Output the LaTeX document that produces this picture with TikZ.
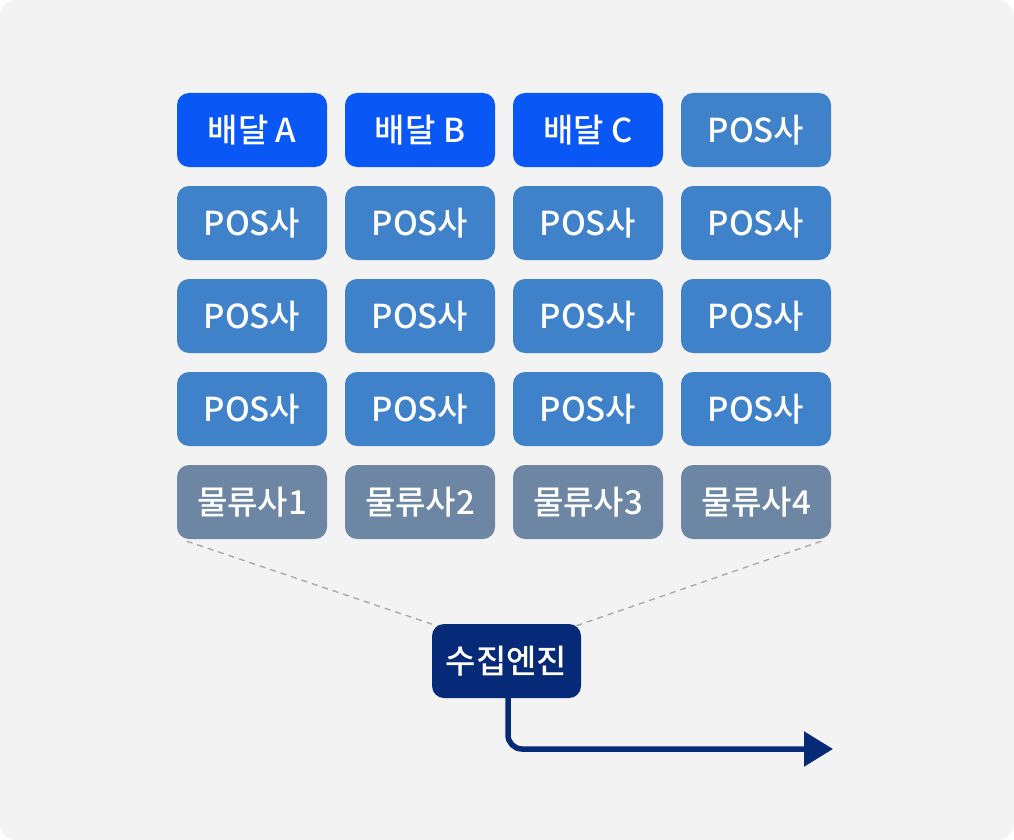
\documentclass[tikz,border=0pt]{standalone}
\usepackage{fontspec}
\setmainfont{Noto Sans CJK KR Medium}
\usetikzlibrary{arrows.meta}
\pgfdeclarelayer{bg}
\pgfdeclarelayer{paper}
\pgfsetlayers{paper,bg,main}
\definecolor{pagebg}{HTML}{F3F3F3}
\definecolor{deliv}{HTML}{0957F4}
\definecolor{pos}{HTML}{3F82C9}
\definecolor{logi}{HTML}{6D86A3}
\definecolor{navy}{HTML}{062A77}
\definecolor{dash}{HTML}{A5A5A5}
\begin{document}
\begin{tikzpicture}[x=1pt,y=-1pt,
  cell/.style={draw=none, rounded corners=12pt, minimum width=150pt, minimum height=74pt,
    text=white, font=\fontsize{33}{39}\selectfont, inner sep=0pt},
  delivbox/.style={cell, fill=deliv},
  posbox/.style={cell, fill=pos},
  logibox/.style={cell, fill=logi},
  enginebox/.style={cell, fill=navy, minimum width=149pt},
  guide/.style={draw=dash, line width=1.3pt, dash pattern=on 6pt off 5pt},
  flow/.style={draw=navy, line width=5.5pt, rounded corners=14pt,
    -{Triangle[length=29pt,width=34pt]}}]
\useasboundingbox (0,0) rectangle (1014,840);
\begin{pgfonlayer}{paper}
\fill[white] (0,0) rectangle (1014,840);
\fill[pagebg, rounded corners=16pt] (0,0) rectangle (1014,840);
\end{pgfonlayer}

% row 1
\node[delivbox] (d1) at (252,130) {배달 A};
\node[delivbox] (d2) at (420,130) {배달 B};
\node[delivbox] (d3) at (588,130) {배달 C};
\node[posbox]   (p14) at (756,130) {POS사};
% rows 2-4
\node[posbox] (p21) at (252,223) {POS사};
\node[posbox] (p22) at (420,223) {POS사};
\node[posbox] (p23) at (588,223) {POS사};
\node[posbox] (p24) at (756,223) {POS사};
\node[posbox] (p31) at (252,316) {POS사};
\node[posbox] (p32) at (420,316) {POS사};
\node[posbox] (p33) at (588,316) {POS사};
\node[posbox] (p34) at (756,316) {POS사};
\node[posbox] (p41) at (252,409) {POS사};
\node[posbox] (p42) at (420,409) {POS사};
\node[posbox] (p43) at (588,409) {POS사};
\node[posbox] (p44) at (756,409) {POS사};
% row 5
\node[logibox] (m1) at (252,502) {물류사1};
\node[logibox] (m2) at (420,502) {물류사2};
\node[logibox] (m3) at (588,502) {물류사3};
\node[logibox] (m4) at (756,502) {물류사4};

% engine
\node[enginebox] (eng) at (506.5,661) {수집엔진};
\coordinate (out) at (833,749);

\begin{pgfonlayer}{bg}
\draw[guide] ([shift={(10,2)}]m1.south west) -- ([shift={(8,3)}]eng.north west);
\draw[guide] ([shift={(-10,2)}]m4.south east) -- ([shift={(-8,3)}]eng.north east);
\end{pgfonlayer}

\draw[flow] ([xshift=1.5pt]eng.south) |- (out);
\end{tikzpicture}
\end{document}
